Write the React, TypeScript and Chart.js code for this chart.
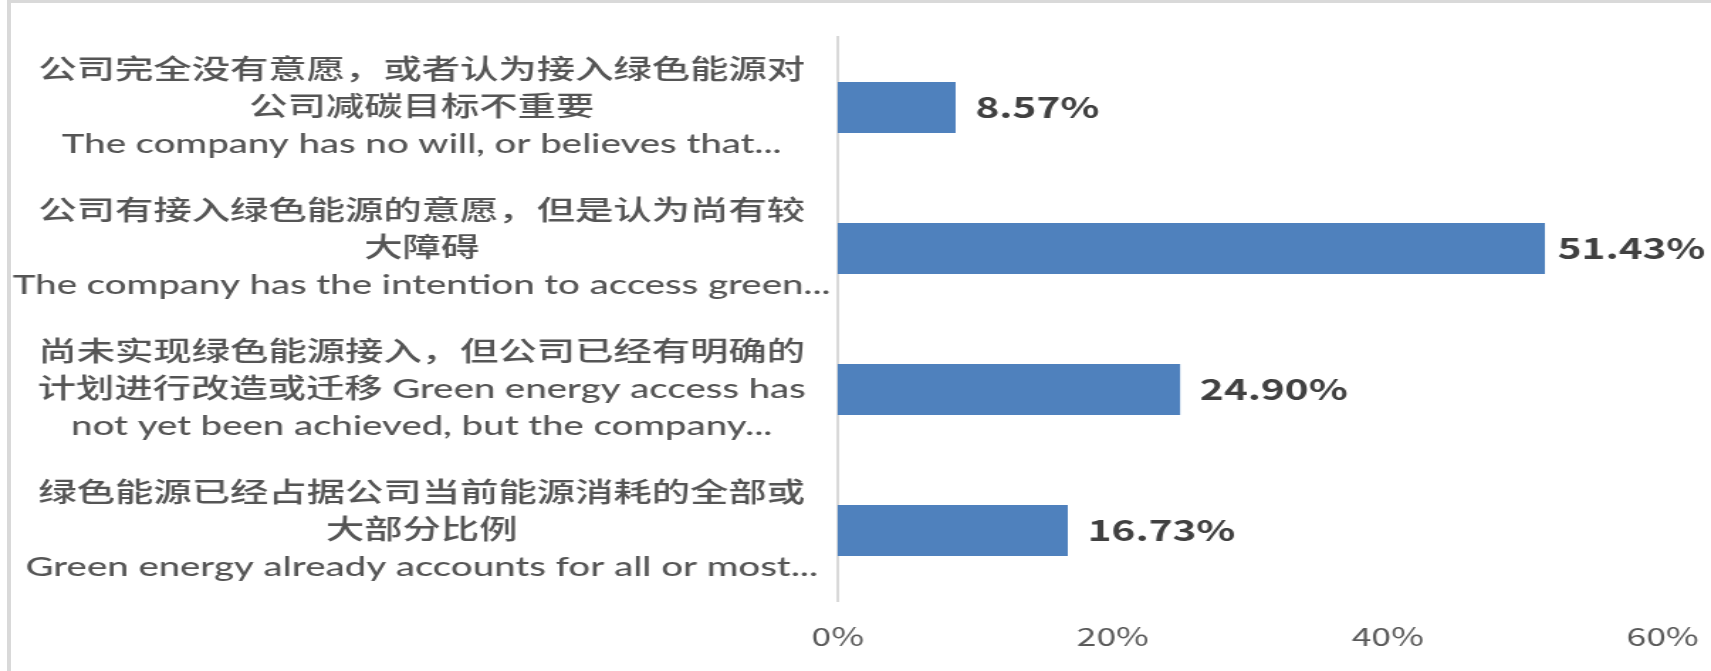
import React, { useEffect, useRef } from 'react';
import { Chart, registerables } from 'chart.js';

Chart.register(...registerables);

const categories: string[][] = [
  ['公司完全没有意愿，或者认为接入绿色能源对', '公司减碳目标不重要', 'The company has no will, or believes that...'],
  ['公司有接入绿色能源的意愿，但是认为尚有较', '大障碍', 'The company has the intention to access green...'],
  ['尚未实现绿色能源接入，但公司已经有明确的', '计划进行改造或迁移 Green energy access has', 'not yet been achieved, but the company...'],
  ['绿色能源已经占据公司当前能源消耗的全部或', '大部分比例', 'Green energy already accounts for all or most...'],
];
const values: number[] = [8.57, 51.43, 24.9, 16.73];
const xTickValues: number[] = [0, 20, 40, 60];

const W = 1205;
const H = 671;
const STRETCH = 1711 / W;
const CJK = '"Noto Sans CJK SC", "Noto Sans", sans-serif';
const LABEL_FONT = 'Lato, "Noto Sans CJK SC", sans-serif';
const LABEL_SIZE = 27;
const AXIS_RIGHT = 590;
const LABEL_CENTER = 297;
const X_TICK_PAD = 20;
const X_TICK_SIZE = 25;

export default function App() {
  const ref = useRef<HTMLCanvasElement>(null);

  useEffect(() => {
    const canvas = ref.current!;
    const m = document.createElement('canvas').getContext('2d')!;
    m.font = `500 ${LABEL_SIZE}px ${LABEL_FONT}`;
    const widest = Math.max(...categories.flat().map((s) => m.measureText(s).width));
    const pad = Math.max(0, AXIS_RIGHT - LABEL_CENTER - widest / 2);

    const barLabels = {
      id: 'barLabels',
      afterDatasetsDraw(chart: any) {
        const ctx = chart.ctx;
        const meta = chart.getDatasetMeta(0);
        ctx.save();
        ctx.font = `bold 28.5px ${CJK}`;
        ctx.fillStyle = '#404040';
        ctx.textAlign = 'left';
        ctx.textBaseline = 'middle';
        meta.data.forEach((bar: any, i: number) => {
          const text = values[i].toFixed(2) + '%';
          const tw = ctx.measureText(text).width;
          const x = Math.min(bar.x + 14, chart.width - 4 - tw);
          ctx.fillText(text, x, bar.y);
        });
        ctx.restore();
      },
    };

    const chart = new Chart(canvas, {
      type: 'bar',
      data: {
        labels: categories,
        datasets: [
          {
            data: values,
            backgroundColor: '#4F81BD',
            borderWidth: 0,
            barPercentage: 0.36,
            categoryPercentage: 1,
          },
        ],
      },
      options: {
        indexAxis: 'y',
        animation: false,
        responsive: false,
        devicePixelRatio: 1,
        layout: { padding: { left: 0, top: 37, right: 34, bottom: 20 } },
        plugins: { legend: { display: false }, tooltip: { enabled: false } },
        scales: {
          x: {
            min: 0,
            max: 60,
            afterBuildTicks: (s: any) => {
              s.ticks = xTickValues.map((v) => ({ value: v }));
            },
            afterFit: (s: any) => {
              s.height = X_TICK_PAD + X_TICK_SIZE * 1.2;
              s.paddingLeft = 0;
              s.paddingRight = 0;
            },
            grid: { display: false, drawTicks: false },
            border: { display: false },
            ticks: {
              callback: (v: any) => v + '%',
              color: '#595959',
              font: { family: CJK, size: X_TICK_SIZE },
              padding: X_TICK_PAD,
              maxRotation: 0,
            },
          },
          y: {
            afterFit: (s: any) => {
              s.width = AXIS_RIGHT;
              s.paddingTop = 0;
              s.paddingBottom = 0;
            },
            grid: { display: false, drawTicks: false },
            border: { display: true, color: '#d9d9d9', width: 2 },
            ticks: {
              crossAlign: 'center',
              color: '#555555',
              font: { family: LABEL_FONT, size: LABEL_SIZE, weight: '500', lineHeight: 1.37 },
              padding: pad,
              autoSkip: false,
            },
          },
        },
      },
      plugins: [barLabels],
    } as any);
    return () => chart.destroy();
  }, []);

  return (
    <div style={{ position: 'absolute', left: 0, top: 0, width: 1711, height: 671, overflow: 'hidden', background: '#fff' }}>
      <div
        style={{
          position: 'absolute',
          left: 7,
          top: 0,
          width: 1704,
          height: 671,
          borderLeft: '4px solid #d9d9d9',
          borderTop: '3px solid #d9d9d9',
          boxSizing: 'border-box',
        }}
      />
      <div
        style={{
          position: 'absolute',
          left: 0,
          top: 0,
          width: W,
          height: H,
          transform: `scaleX(${STRETCH})`,
          transformOrigin: '0 0',
        }}
      >
        <canvas ref={ref} width={W} height={H} style={{ display: 'block' }} />
      </div>
    </div>
  );
}
